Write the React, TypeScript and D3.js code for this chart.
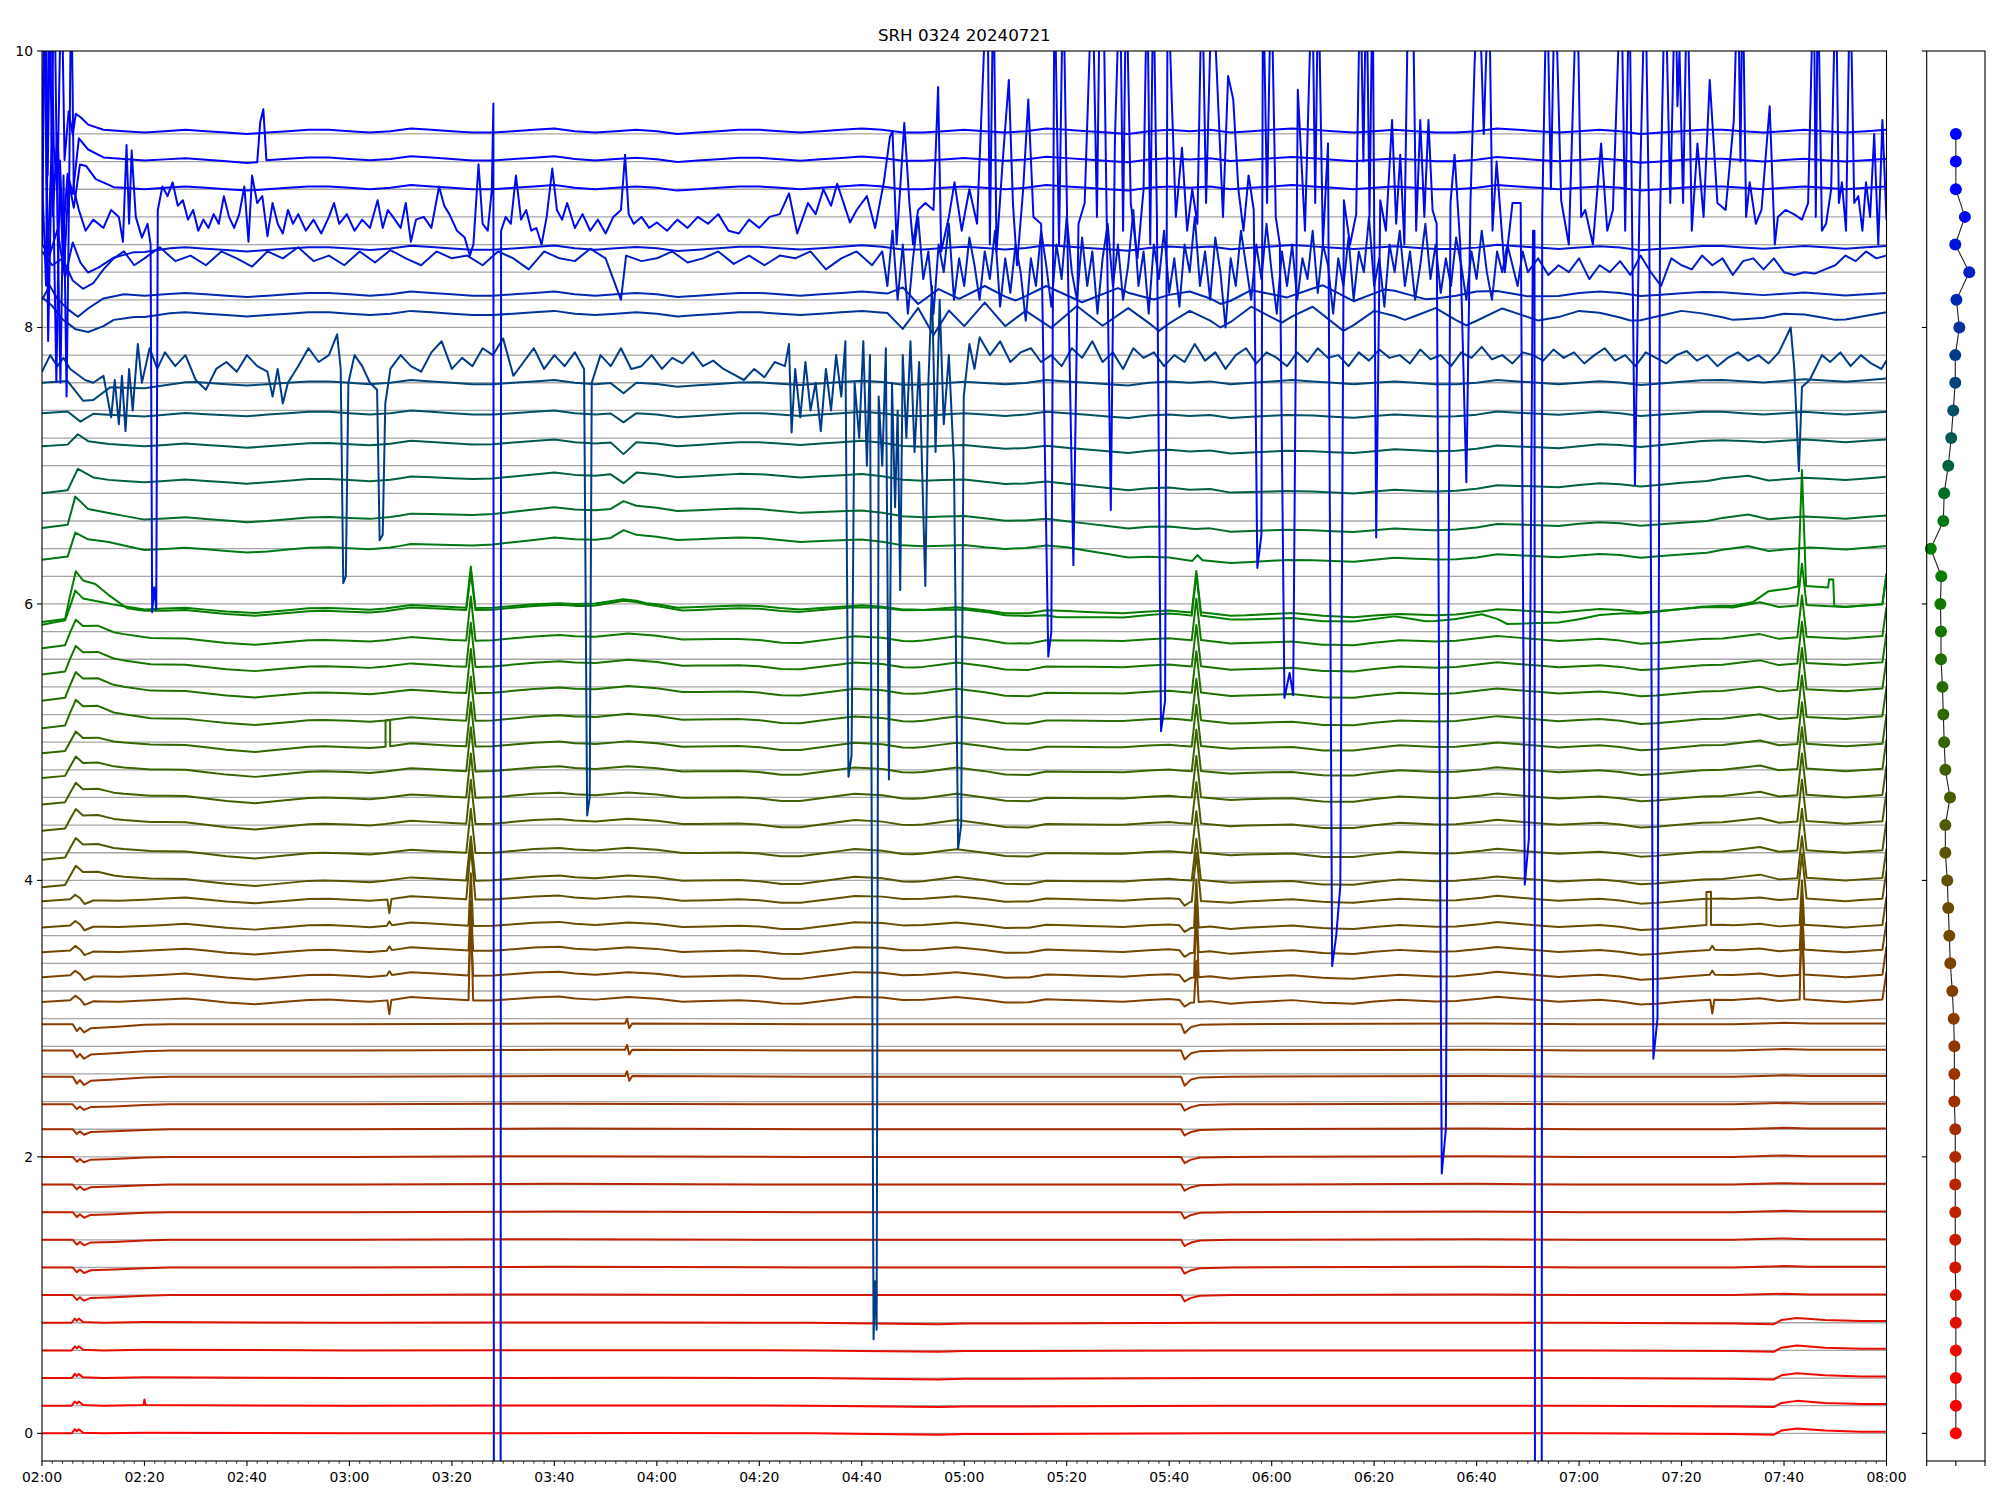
import React from "react";
import * as d3 from "d3";

type Pt = [number, number];

// ---------------- data ----------------
const title = "SRH 0324 20240721";
const timeTickLabels = ["02:00","02:20","02:40","03:00","03:20","03:40","04:00","04:20","04:40","05:00","05:20","05:40","06:00","06:20","06:40","07:00","07:20","07:40","08:00"];
const yTickLabels = ["0", "2", "4", "6", "8", "10"];
const panelTicks = [-0.5, 0, 0.5];

const channelOffsets = [0, 0.2, 0.4, 0.6, 0.8, 1.0, 1.2, 1.4, 1.6, 1.8, 2.0, 2.2, 2.4, 2.6, 2.8, 3.0, 3.2, 3.4, 3.6, 3.8, 4.0, 4.2, 4.4, 4.6, 4.8, 5.0, 5.2, 5.4, 5.6, 5.8, 6.0, 6.2, 6.4, 6.6, 6.8, 7.0, 7.2, 7.4, 7.6, 7.8, 8.0, 8.2, 8.4, 8.6, 8.8, 9.0, 9.2, 9.4];

// x position of each dot in the right panel
const dotShift = [0, 0, 0, 0, 0, 0, -0.01, -0.01, -0.01, -0.01, -0.01, -0.01, -0.026, -0.026, -0.026, -0.037, -0.061, -0.095, -0.112, -0.13, -0.147, -0.18, -0.18, -0.1, -0.18, -0.2, -0.215, -0.23, -0.255, -0.255, -0.265, -0.25, -0.43, -0.215, -0.2, -0.13, -0.08, -0.045, -0.01, -0.01, 0.06, 0.01, 0.23, -0.01, 0.155, 0, 0, 0];

// level of the quiet traces (channels 0..32) relative to their offset
const traceLevel = [0, 0, 0, 0, 0, 0, 0, 0, 0, 0, 0, 0, -0.02, -0.02, -0.03, -0.04, -0.07, -0.09, -0.11, -0.13, -0.14, -0.2, -0.2, -0.19, -0.2, -0.21, -0.23, -0.24, -0.24, -0.25, -0.26, -0.25, -0.43];
const profileOf = [0, 0, 0, 0, 0, 1, 1, 1, 1, 1, 1, 1, 1, 2, 2, 2, 3, 3, 3, 3, 3, 4, 4, 4, 4, 4, 4, 5, 5, 5, 5, 6, 7];

const profileLow: Pt[] = [[0,0],[5.8,0],[6.4,0.03],[6.8,0.015],[7.2,0.03],[8,0.005],[12,0],[20,0.005],[60,0],[120,0.002],[150,0],[175,-0.01],[180,-0.005],[190,-0.005],[230,0],[300,0],[330,-0.005],[338,-0.01],[339.5,0.02],[342.5,0.035],[348,0.02],[355,0.012],[360,0.012]];
const profileRedDip: Pt[] = [[0,0],[6,0],[6.8,-0.035],[7.4,-0.015],[8.2,-0.04],[9.5,-0.02],[14,-0.015],[20,-0.005],[25,0],[60,0],[100,0.005],[150,0],[190,0],[222.3,0],[223,-0.045],[223.7,-0.03],[224.3,-0.02],[226,-0.005],[232,0],[280,0.005],[300,0],[330,0],[340,0.01],[345,0.005],[360,0.005]];
const profileRedDip2: Pt[] = [[0,0],[6,0],[6.8,-0.05],[7.4,-0.025],[8.2,-0.06],[9.5,-0.03],[14,-0.02],[20,-0.005],[25,0],[60,0],[100,0.005],[113.8,0.005],[114.2,0.04],[114.6,-0.03],[115.2,0.005],[150,0],[190,0],[222.3,0],[223,-0.065],[223.7,-0.04],[224.3,-0.02],[226,-0.005],[232,0],[280,0.005],[300,0],[330,0],[340,0.01],[345,0.005],[360,0.005]];
const profileBrown: Pt[] = [[0,-0.01],[5.5,-0.01],[6.5,0.02],[7.5,-0.01],[8.3,-0.05],[10,-0.02],[15,-0.01],[21,0.01],[30,0.005],[41.6,-0.01],[60,0],[80,0.01],[101,0.015],[114.4,0.02],[125,0.01],[144.3,-0.02],[158.6,0.01],[178.5,0.02],[192.6,-0.015],[211,0.01],[222,0],[223,-0.045],[224.2,-0.015],[235,-0.01],[250,-0.02],[265,0],[281,0.01],[300,0],[315,-0.01],[330,0],[335.3,0.025],[339,0],[355,0],[359.2,0],[360,0.2]];
const profileOlive: Pt[] = [[0,-0.05],[4.5,-0.045],[5.5,0.02],[6.6,0.09],[8,0.04],[10.9,0.05],[14,0.03],[21.2,0.02],[28,0],[41.6,-0.025],[55,-0.01],[67,0],[80,0.005],[101,0.02],[106,0.025],[114.4,0.03],[125,0.015],[144.3,-0.025],[158.6,0.01],[170,0],[178.5,0.02],[192.6,-0.03],[211,0.01],[222,0],[235,-0.01],[250,-0.035],[265,0],[281,0.01],[300,0],[315,-0.01],[328,0],[335.3,0.05],[339,0.01],[355,0.01],[359.2,0.01],[360,0.22]];
const profileGreen: Pt[] = [[0,-0.06],[4.5,-0.05],[5.5,0.04],[6.6,0.13],[8,0.08],[10.9,0.09],[14,0.05],[21.2,0.02],[28,0],[41.6,-0.02],[55,-0.01],[67,0],[80,0],[101,0.02],[106,0.03],[114.4,0.04],[125,0.02],[144.3,-0.02],[158.6,0.01],[170,0],[178.5,0.02],[192.6,-0.03],[211,0.01],[222,0],[235,-0.02],[250,-0.04],[265,-0.01],[281,0.01],[300,0],[315,-0.01],[328,0],[335.3,0.05],[339,0.01],[355,0.02],[359.2,0.02],[360,0.23]];
const profile31: Pt[] = [[0,-0.08],[4.5,-0.07],[5.5,0.1],[6.6,0.27],[8,0.2],[10.4,0.18],[12.9,0.11],[16.6,0.02],[24,0],[41.6,-0.02],[55,-0.01],[67,0],[101,0.03],[106,0.04],[113.5,0.07],[118,0.04],[125,0.02],[144.3,0],[158.6,0.01],[178.5,0.02],[192.6,-0.02],[211,0],[222,-0.01],[235,-0.03],[250,-0.04],[265,-0.03],[281,-0.01],[300,0],[330,0.02],[335.3,0.07],[339,0.03],[355,0.04],[359.2,0.04],[360,0.26]];
const profile32: Pt[] = [[0,-0.12],[4.5,-0.1],[5.5,0],[6.5,0.11],[8,0.05],[10,0.04],[14,0.02],[20,0],[41.6,-0.02],[67,0],[101,0.02],[113.5,0.06],[118,0.03],[144,0],[170,0],[185,-0.03],[198,-0.08],[211,-0.05],[222,-0.05],[235,-0.08],[250,-0.1],[264,-0.07],[270,-0.09],[281,-0.05],[286,-0.13],[300,-0.08],[312,-0.02],[330,0.01],[334,0.05],[337,0.13],[341,0.14],[342.7,0.15],[343.5,0.99],[344.3,0.15],[348.6,0.15],[348.8,0.21],[349.6,0.21],[349.8,0.02],[355,0.02],[359.2,0.02],[360,0.24]];
const quietProfiles = [profileLow, profileRedDip, profileRedDip2, profileBrown, profileOlive, profileGreen, profile31, profile32];

// minutes after 02:00 of the three bursts, and their amplitudes per channel
const burstTimes = [83.7, 225.3, 343.5];
const spike0324 = [0,0,0,0,0,0,0,0,0,0,0,0,0,0,0,0,0.7,0.36,0.36,0.38,0.38,0.32,0.32,0.32,0.32,0.32,0.32,0.32,0.32,0.32,0.32,0.27,0.3,0,0,0,0,0,0,0,0,0,0,0,0,0,0,0];
const spike0545 = [0,0,0,0,0,0,0,0,0,0,0,0,0,0,0,0,0.3,0.5,0.35,0.35,0.35,0.3,0.3,0.3,0.3,0.3,0.3,0.3,0.3,0.3,0.3,0.3,0.3,0,0,0,0,0,0,0,0,0,0,0,0,0,0,0];
const spike0744 = [0,0,0,0,0,0,0,0,0,0,0,0,0,0,0,0,0.75,0.32,0.32,0.32,0.32,0.3,0.3,0.3,0.3,0.3,0.3,0.3,0.3,0.3,0.3,0.3,0,0,0,0,0,0,0,0,0,0,0,0,0,0,0,0];
// [channel, minute, amplitude, half width, rectangular]
const extraPulses: [number, number, number, number, number][] = [
  [26, 67.5, 0.19, 0.45, 1], [19, 325.3, 0.24, 0.45, 1], [16, 67.8, -0.1, 0.4, 0], [20, 67.8, -0.1, 0.4, 0],
  [17, 67.8, 0.03, 0.5, 0], [18, 67.8, 0.03, 0.5, 0], [19, 67.8, 0.03, 0.5, 0], [16, 326, -0.1, 0.4, 0],
  [17, 326, 0.03, 0.5, 0], [18, 326, 0.03, 0.5, 0], [1, 20, 0.04, 0.2, 0],
];

// teal channels 33..38, deviation from offset
const tealProfiles: Pt[][] = [
  [[0,-0.28],[5,-0.27],[6.5,-0.1],[9,-0.15],[13,-0.16],[20,-0.2],[44,-0.21],[70,-0.19],[100,-0.14],[111,-0.12],[113.5,-0.07],[116,-0.11],[157,-0.15],[184,-0.19],[200,-0.2],[224.5,-0.29],[225.5,-0.25],[226.5,-0.29],[243,-0.3],[270,-0.27],[300,-0.25],[325,-0.24],[333,-0.18],[337,-0.21],[345,-0.2],[360,-0.19]],
  [[0,-0.25],[5,-0.24],[6.5,-0.04],[9,-0.13],[13,-0.15],[20,-0.18],[44,-0.19],[70,-0.17],[100,-0.12],[111,-0.11],[113.5,-0.06],[116,-0.1],[157,-0.14],[184,-0.18],[225,-0.26],[243,-0.28],[270,-0.26],[300,-0.22],[325,-0.21],[333,-0.15],[337,-0.18],[360,-0.17]],
  [[0,-0.2],[5,-0.19],[7,-0.04],[10,-0.1],[13,-0.11],[44,-0.11],[70,-0.1],[100,-0.07],[111,-0.06],[113.5,-0.13],[116,-0.06],[160,-0.08],[200,-0.14],[243,-0.2],[270,-0.18],[300,-0.14],[325,-0.12],[333,-0.07],[337,-0.1],[360,-0.09]],
  [[0,-0.06],[5,-0.06],[7,0.01],[9,-0.04],[13,-0.05],[44,-0.05],[100,-0.03],[111,-0.03],[113.5,-0.12],[116,-0.04],[160,-0.04],[200,-0.08],[243,-0.11],[300,-0.06],[333,-0.02],[360,-0.02]],
  [[0,-0.02],[5,-0.02],[7.5,-0.1],[10,-0.04],[44,-0.02],[111,-0.02],[113.5,-0.09],[116,-0.03],[200,-0.03],[243,-0.05],[300,-0.02],[360,-0.02]],
  [[0,0],[5,0],[8,-0.15],[10,-0.14],[13.3,-0.04],[20,-0.03],[30,0],[111,0],[113.5,-0.08],[116,-0.01],[200,0],[300,0],[360,0.02]],
];

// small common wiggle (hundredths), 4-minute grid
const wiggle = [0,1,2,1,0,-1,0,1,0,-1,-2,-1,0,1,1,0,-1,0,2,1,0,-1,-1,0,1,2,0,-1,0,1,0,-2,-1,0,1,1,0,-1,0,1,2,1,-1,-1,0,1,0,-1,0,2,1,0,-1,-2,0,1,0,1,-1,0,1,2,1,0,-1,0,1,0,-1,-1,0,2,1,0,-1,0,1,0,-2,-1,0,1,1,0,-1,0,1,0,-1,0,1];

// noisy upper channels, absolute values
const ch39: Pt[] = [[0,7.68],[1.6,7.8],[3,7.72],[4.2,7.78],[5.5,7.7],[8.4,7.62],[10,7.6],[12,7.65],[13.5,7.35],[14.2,7.62],[15,7.3],[15.6,7.65],[16.3,7.25],[17,7.7],[17.7,7.4],[18.7,7.88],[19.5,7.6],[21,7.85],[22.5,7.7],[24,7.82],[26,7.72],[28,7.8],[30,7.62],[32,7.55],[34,7.7],[36,7.75],[38,7.68],[40,7.8],[42,7.72],[44,7.68],[45,7.5],[46,7.7],[47,7.45],[48,7.6],[50,7.72],[52,7.85],[54,7.75],[56,7.8],[57.6,7.95],[58.3,7.7],[58.8,6.15],[59.3,6.2],[59.8,7.6],[61,7.8],[62.5,7.72],[64,7.6],[65.4,7.55],[65.9,6.46],[66.5,6.5],[67,7.45],[68,7.7],[70,7.8],[72,7.72],[74,7.68],[76,7.82],[78,7.9],[80,7.7],[82,7.78],[84,7.72],[86,7.85],[88,7.8],[90,7.92],[92,7.65],[94,7.75],[96,7.85],[98,7.7],[100,7.8],[102,7.72],[104,7.82],[105.8,7.7],[106.4,4.47],[106.9,4.6],[107.3,7.6],[109,7.8],[111,7.72],[113,7.85],[115,7.7],[117,7.72],[119,7.8],[121,7.7],[123,7.78],[125,7.74],[127,7.82],[129,7.72],[131,7.76],[133,7.7],[135,7.66],[137,7.62],[139,7.7],[141,7.64],[143,7.75],[145,7.72],[145.8,7.88],[146.3,7.24],[147,7.7],[148,7.35],[149,7.75],[150,7.4],[151,7.6],[152,7.25],[153,7.7],[154,7.4],[155,7.8],[156,7.5],[156.8,7.9],[157.4,4.75],[158,4.9],[158.6,7.6],[159.5,7.2],[160.3,7.9],[161,7.0],[161.6,7.8],[162.3,0.68],[162.6,1.1],[162.9,0.75],[163.3,7.5],[164,7.0],[164.7,7.85],[165.3,4.73],[165.9,7.6],[166.5,6.7],[167,7.4],[167.5,6.1],[168,7.8],[168.7,7.2],[169.5,7.9],[170.3,7.1],[171.2,7.75],[172.4,6.13],[173,7.6],[173.7,8.3],[174.4,7.1],[175.2,8.2],[176,7.3],[177,7.8],[178,7.0],[178.8,4.23],[179.4,4.4],[179.9,7.5],[181,7.88],[182,7.7],[183,7.93],[185,7.8],[187,7.9],[189,7.75],[191,7.82],[193,7.85],[195,7.75],[197,7.8],[199,7.72],[201,7.85],[203,7.78],[205,7.9],[207,7.75],[209,7.82],[211,7.7],[213,7.85],[215,7.78],[217,7.82],[219,7.72],[221,7.8],[223,7.75],[225,7.88],[227,7.76],[229,7.82],[231,7.7],[233,7.8],[235,7.85],[237,7.74],[239,7.82],[241,7.78],[243,7.72],[245,7.82],[247,7.75],[249,7.85],[251,7.78],[253,7.8],[255,7.72],[257,7.82],[259,7.76],[261,7.84],[263,7.78],[265,7.8],[267,7.74],[269,7.84],[271,7.77],[273,7.8],[275,7.72],[277,7.82],[279,7.78],[281,7.86],[283,7.77],[285,7.8],[287,7.74],[289,7.82],[291,7.8],[293,7.76],[295,7.84],[297,7.78],[299,7.82],[301,7.74],[303,7.8],[305,7.85],[307,7.76],[309,7.8],[311,7.72],[313,7.82],[315,7.78],[317,7.74],[319,7.8],[321,7.83],[323,7.76],[325,7.8],[327,7.72],[329,7.78],[331,7.82],[333,7.76],[335,7.8],[337,7.74],[339,7.82],[341.3,8.0],[342,7.7],[342.9,6.96],[343.5,7.57],[345,7.62],[347.4,7.8],[349,7.75],[351,7.82],[353,7.72],[355,7.8],[357,7.74],[359,7.7],[360,7.76]];
const ch40: Pt[] = [[0,8.22],[2,8.15],[4,8.05],[6.6,7.97],[9,7.95],[12,8.0],[14,8.05],[18,8.08],[25,8.1],[165,8.1],[168,8.0],[171,8.15],[174,7.95],[177,8.12],[180,8.0],[184,8.18],[188,8.02],[192,8.12],[197,7.98],[202,8.15],[207,8.02],[212,8.16],[218,7.97],[224,8.12],[230,8.0],[236,8.15],[242,8.02],[248,8.14],[254,7.98],[260,8.12],[266,8.05],[272,8.15],[278,8.02],[285,8.12],[292,8.05],[300,8.12],[310,8.06],[320,8.12],[330,8.05],[340,8.1],[350,8.06],[360,8.1]];
const ch41: Pt[] = [[0,8.2],[1.5,8.3],[3,8.2],[5,8.12],[7,8.06],[9,8.12],[12,8.2],[16,8.24],[165,8.24],[168,8.3],[171,8.18],[175,8.28],[179,8.2],[184,8.3],[190,8.2],[196,8.28],[203,8.18],[210,8.3],[217,8.2],[224,8.26],[230,8.17],[236,8.27],[243,8.2],[250,8.3],[256,8.2],[262,8.27],[270,8.21],[280,8.26],[290,8.22],[300,8.25],[360,8.24]];
const ch42: Pt[] = [[0,8.55],[2,8.45],[4,8.5],[6,8.34],[8,8.28],[10,8.32],[12,8.42],[14,8.5],[16,8.55],[18,8.45],[20,8.5],[23,8.58],[26,8.48],[29,8.52],[32,8.45],[35,8.55],[38,8.5],[41,8.44],[44,8.55],[47,8.5],[50,8.58],[53,8.48],[56,8.52],[59,8.45],[62,8.55],[65,8.47],[68,8.56],[71,8.5],[74,8.45],[77,8.55],[80,8.5],[83,8.52],[86,8.45],[89,8.55],[92,8.5],[95,8.42],[98,8.55],[101,8.5],[104,8.48],[107,8.57],[110,8.5],[113,8.2],[114,8.52],[117,8.48],[120,8.5],[123,8.55],[126,8.47],[129,8.5],[132,8.55],[135,8.46],[138,8.52],[141,8.45],[144,8.52],[147,8.5],[150,8.55],[153,8.42],[156,8.5],[159,8.55],[162,8.45],[164,8.55],[165,8.3],[166,8.7],[167,8.2],[168,8.6],[169,8.1],[170,8.5],[171,8.8],[172,8.35],[173,8.55],[174,8.1],[175,8.6],[176,8.4],[177,8.75],[178,8.2],[179,8.5],[180,8.3],[181,8.65],[182,8.45],[183,8.2],[184,8.55],[185,8.35],[186,8.7],[187,8.15],[188,8.5],[189,8.25],[190,8.6],[191,8.4],[192,8.05],[193,8.5],[194,8.3],[195,8.7],[196,8.45],[197,8.15],[198,8.6],[199,8.35],[200,8.8],[201,8.4],[202,8.2],[203,8.65],[204,8.3],[205,8.55],[206,8.1],[207,8.5],[208,8.75],[209,8.3],[210,8.6],[211,8.2],[212,8.45],[213,8.85],[214,8.3],[215,8.55],[216,8.1],[217,8.6],[218,8.35],[219,8.7],[220,8.25],[221,8.5],[222,8.15],[223,8.6],[224,8.4],[225,8.8],[226,8.3],[227,8.55],[228,8.2],[229,8.65],[230,8.4],[231,8.0],[232,8.5],[233,8.3],[234,8.7],[235,8.45],[236,8.2],[237,8.6],[238,8.35],[239,8.75],[240,8.4],[241,8.1],[242,8.55],[243,8.3],[244,8.6],[245,8.2],[246,8.5],[247,8.35],[248,8.7],[249,8.25],[250,8.6],[251,8.45],[252,8.1],[253,8.5],[254,8.3],[255,8.65],[256,8.2],[257,8.55],[258,8.4],[259,8.8],[260,8.3],[261,8.5],[262,8.15],[263,8.6],[264,8.4],[265,8.7],[266,8.3],[267,8.55],[268,8.2],[269,8.45],[270,8.75],[271,8.35],[272,8.6],[273,8.25],[274,8.5],[275,8.3],[276,8.65],[277,8.45],[278,8.2],[279,8.55],[280,8.35],[281,8.7],[282,8.4],[283,8.2],[284,8.55],[285,8.4],[286,8.6],[287,8.45],[288,8.3],[289,8.55],[290,8.4],[292,8.5],[294,8.38],[296,8.45],[298,8.4],[300,8.5],[302,8.35],[304,8.45],[306,8.4],[308,8.48],[310,8.38],[312,8.52],[314,8.4],[316,8.3],[318,8.5],[320,8.45],[322,8.42],[324,8.52],[326,8.45],[328,8.5],[330,8.38],[332,8.48],[334,8.5],[336,8.42],[338,8.5],[340,8.4],[342,8.38],[344,8.4],[346,8.39],[348,8.42],[350,8.45],[352,8.52],[354,8.48],[356,8.55],[358,8.5],[360,8.52]];
const ch43: Pt[] = [[0,8.6],[1.5,8.52],[3,8.7],[4.5,8.35],[6,8.6],[7.5,8.45],[9,8.38],[11,8.42],[14,8.5],[18,8.55],[25,8.57],[360,8.58]];
const ch44: Pt[] = [[0,8.7],[0.5,10.6],[1,8.4],[1.8,9.2],[2.4,10.6],[3,8.8],[3.6,7.6],[4.2,9.1],[4.8,7.5],[5.3,9.0],[5.7,10.6],[6.2,9.0],[7.2,8.85],[8.5,8.7],[10,8.78],[12,8.72],[13.5,8.85],[15,8.8],[15.8,8.62],[16.5,9.32],[17,8.75],[17.5,9.28],[18.3,8.8],[19.5,8.65],[20.6,8.75],[21.2,8.6],[21.5,5.94],[21.9,6.12],[22.3,5.96],[22.6,8.85],[23.5,9.02],[24.5,8.95],[25.5,9.05],[26.5,8.88],[27.5,8.92],[28.5,8.78],[29.5,8.85],[30.5,8.7],[31.5,8.78],[32.5,8.72],[33.5,8.82],[34.5,8.75],[35.5,8.95],[36.5,8.8],[37.5,8.72],[38.5,8.82],[39.5,9.02],[40.3,8.62],[41,9.1],[42,8.9],[43,8.95],[44,8.66],[45,8.9],[46,8.75],[47,8.68],[48,8.85],[49,8.75],[50,8.82],[51.5,8.7],[53,8.78],[54.5,8.68],[56,8.8],[57,8.9],[58,8.75],[59.5,8.82],[61,8.7],[62.5,8.78],[64,8.72],[65.5,8.92],[66.5,8.72],[67.5,8.85],[68.5,8.8],[70,8.72],[71,8.9],[72,8.62],[73,8.78],[74.5,8.8],[76,8.72],[77.5,9.02],[78.5,8.88],[79.5,8.82],[81,8.7],[82.5,8.65],[83.5,8.52],[84.2,8.6],[85.2,9.18],[86,8.75],[87,8.7],[87.8,9.0],[88.1,9.62],[88.2,-1.5],[89.5,-1.5],[89.6,8.7],[90.5,8.8],[91.5,8.75],[92.5,9.1],[93.5,8.78],[94.5,8.85],[95.5,8.7],[96.5,8.72],[97.5,8.6],[98.5,8.8],[99.6,9.15],[100.5,8.85],[101.5,8.78],[102.5,8.9],[104,8.72],[105.5,8.82],[107,8.7],[108.5,8.78],[110,8.68],[111.5,8.8],[113,8.85],[113.8,9.25],[114.5,8.82],[115.5,8.75],[117,8.8],[118.5,8.72],[120,8.76],[122,8.7],[124,8.78],[126,8.72],[128,8.8],[130,8.75],[132,8.82],[134,8.7],[136,8.68],[138,8.78],[140,8.72],[142,8.8],[144,8.82],[145.8,8.97],[147.4,8.68],[149.5,8.9],[151,8.82],[152.5,9.0],[154,8.88],[155.2,9.04],[157.7,8.76],[159,8.85],[161,8.95],[162.6,8.72],[164.3,9.05],[165.5,9.38],[166,9.42],[166.8,8.6],[168.3,9.48],[169.3,8.9],[170,8.6],[171,8.85],[172.4,8.9],[174,8.85],[174.9,9.74],[175.5,8.55],[177,8.8],[178.1,9.05],[179.5,8.7],[181,9.0],[182.5,8.75],[184.5,10.6],[185,8.6],[185.7,10.6],[186.3,8.55],[187.5,9.2],[188.7,9.79],[189.5,8.9],[190.3,8.45],[191.5,9.0],[192.5,9.65],[193.5,8.8],[195,8.75],[196.4,5.62],[197,5.8],[197.6,10.6],[198.5,8.6],[199.3,10.6],[200.2,8.5],[201.3,6.28],[202.3,8.75],[203.5,8.9],[205,10.6],[205.9,8.8],[206.5,10.6],[207.1,10.6],[207.8,8.8],[208.6,6.68],[209.4,9.35],[210.4,10.6],[211,8.7],[211.6,10.6],[212.5,8.9],[213.8,8.5],[215,9.0],[215.7,10.6],[216.3,8.6],[216.9,10.6],[217.6,8.8],[218.4,5.08],[219.2,5.3],[219.7,10.6],[220.5,9.65],[221.3,8.8],[222.5,9.3],[223.5,8.7],[224.5,9.0],[225.5,8.75],[226.4,10.6],[227.2,8.9],[228.4,10.6],[229.7,9.5],[230.5,8.8],[231.5,9.82],[232.5,9.65],[233.5,9.0],[234.5,8.7],[235.5,9.1],[236.5,8.85],[237.2,6.26],[238,6.5],[238.3,10.6],[239.1,8.9],[239.9,10.6],[240.8,8.8],[241.6,8.6],[242.5,5.32],[243.5,5.5],[244.2,5.34],[245.1,9.72],[246.5,8.7],[247.9,10.6],[248.5,8.9],[249.1,10.6],[250,8.6],[251,9.33],[251.8,3.38],[252.6,3.6],[253.4,3.96],[254.1,8.92],[255.3,8.6],[256.5,8.82],[257.3,10.6],[257.9,9.2],[258.5,10.6],[259.1,8.8],[259.7,10.6],[260.4,6.48],[261.2,8.92],[262.3,8.7],[263.5,9.5],[264.3,8.75],[265.1,9.25],[265.9,8.6],[266.7,10.6],[267.5,10.6],[268.2,8.7],[269,9.5],[269.8,8.8],[270.6,9.5],[271.4,8.85],[272.2,8.75],[273.2,1.88],[274,2.2],[274.9,8.9],[275.7,9.25],[276.8,8.6],[278,6.88],[278.8,8.9],[279.6,9.9],[280.4,10.6],[281.4,9.4],[282.4,10.6],[283.1,8.7],[283.9,9.2],[285.5,8.4],[287,8.9],[288.6,8.9],[289.4,3.97],[290.2,4.3],[291,8.7],[291.3,8.7],[291.4,-1.5],[292.7,-1.5],[292.8,8.8],[293.7,10.6],[294.5,9.0],[295.3,10.6],[296.5,8.92],[298,8.6],[299.6,10.6],[300.4,8.8],[301.2,8.85],[302.7,8.6],[304.3,9.33],[305.5,8.7],[306.6,8.85],[308.2,10.6],[309,8.7],[309.8,10.6],[310.9,6.86],[311.8,8.9],[312.9,10.6],[313.7,8.7],[314.5,2.71],[315.3,3.0],[315.8,8.8],[316.8,10.6],[317.8,8.9],[318.8,10.6],[319.2,9.6],[319.6,10.0],[320.3,8.9],[321.1,10.6],[322,8.7],[323.1,9.33],[324.3,8.8],[325.5,9.79],[327,8.9],[328.6,8.85],[330.2,9.5],[331,10.6],[331.5,9.2],[331.9,10.6],[332.6,8.8],[333.3,9.05],[334.5,8.75],[335.6,8.85],[337.2,9.6],[338.2,8.6],[338.8,8.8],[340.3,8.85],[341.9,8.82],[343.5,8.78],[344.7,8.9],[345.8,10.6],[346.2,8.8],[346.6,10.6],[347.4,8.7],[348.2,8.75],[349.2,9.0],[350.1,10.6],[350.7,8.9],[351.3,9.05],[352.1,8.7],[352.9,10.6],[353.7,8.9],[354.5,8.95],[355.3,8.7],[356,9.05],[356.8,8.8],[357.6,9.4],[358.4,8.6],[359.2,9.5],[360,8.78]];
const ch45: Pt[] = [[0,8.6],[0.6,10.6],[1.2,7.9],[2,9.4],[2.8,7.6],[3.5,9.2],[4.3,8.4],[5.2,9.05],[6.2,8.85],[7.4,9.16],[8.6,9.15],[10.5,9.06],[14,9.01],[360,9.01]];
const ch46: Pt[] = [[0,9.1],[0.8,8.3],[1.4,10.6],[2.1,8.8],[3,9.4],[4,8.6],[5,9.1],[6,8.95],[7.2,9.35],[9,9.27],[12,9.22],[42,9.21],[42.6,9.5],[43.2,9.59],[43.8,9.22],[360,9.21]];
const ch47: Pt[] = [[0,8.9],[0.5,10.6],[1.1,9.1],[1.7,10.6],[2.3,9.3],[3,9.0],[3.8,10.6],[4.4,9.2],[5.2,9.55],[6,9.38],[6.6,9.53],[7.6,9.5],[9,9.45],[12,9.42],[360,9.42]];
const noisyChannels = [ch39, ch40, ch41, ch42, ch43, ch44, ch45, ch46, ch47];
const noisyWiggled = [0, 1, 1, 0, 1, 0, 1, 1, 1];

// colour stops: channel index -> colour
const colorStopIndex = [0, 32, 45];
const colorStops = ["#ff0000", "#008000", "#0000ff"];

// ---------------- helpers ----------------
function interpAt(pts: Pt[], t: number): number {
  if (t <= pts[0][0]) return pts[0][1];
  for (let i = 1; i < pts.length; i++) {
    if (t <= pts[i][0]) {
      const [t0, v0] = pts[i - 1];
      const [t1, v1] = pts[i];
      return t1 === t0 ? v1 : v0 + ((v1 - v0) * (t - t0)) / (t1 - t0);
    }
  }
  return pts[pts.length - 1][1];
}

function sortPts(pts: Pt[]): Pt[] {
  return pts.map((p, i) => ({ p, i })).sort((a, b) => a.p[0] - b.p[0] || a.i - b.i).map((o) => o.p);
}

function applyPulse(pts: Pt[], t: number, a: number, w: number, rect: number): Pt[] {
  const b0 = interpAt(pts, t - w);
  const b1 = interpAt(pts, t + w);
  const bm = interpAt(pts, t);
  const kept = pts.filter((p) => p[0] < t - w || p[0] > t + w);
  const add: Pt[] = rect
    ? [[t - w, b0], [t - w, b0 + a], [t + w, b1 + a], [t + w, b1]]
    : [[t - w, b0], [t, bm + a], [t + w, b1]];
  return sortPts(kept.concat(add));
}

function withWiggle(pts: Pt[]): Pt[] {
  const n = wiggle.length;
  const step = 360 / (n - 1);
  const wigAt = (t: number) => {
    const i = Math.min(n - 2, Math.max(0, Math.floor(t / step)));
    const f = (t - i * step) / step;
    return (wiggle[i] + (wiggle[i + 1] - wiggle[i]) * f) * 0.01;
  };
  const out: Pt[] = pts.map(([t, v]) => [t, v + wigAt(t)] as Pt);
  for (let i = 0; i < n; i++) {
    const t = i * step;
    if (!pts.some((p) => Math.abs(p[0] - t) < 2)) out.push([t, interpAt(pts, t) + wigAt(t)]);
  }
  return sortPts(out);
}

function buildSeries(ch: number): Pt[] {
  if (ch <= 32) {
    const base = channelOffsets[ch] + traceLevel[ch];
    const prof = profileOf[ch];
    let pts: Pt[] = quietProfiles[prof].map(([t, d]) => [t, base + d] as Pt);
    const hw = ch >= 16 && ch <= 19 ? 0.45 : 0.9;
    if (spike0324[ch]) pts = applyPulse(pts, burstTimes[0], spike0324[ch], hw, 0);
    if (spike0545[ch]) pts = applyPulse(pts, burstTimes[1], spike0545[ch], hw, 0);
    if (spike0744[ch]) pts = applyPulse(pts, burstTimes[2], spike0744[ch], hw, 0);
    extraPulses.forEach(([c, t, a, w, r]) => {
      if (c === ch) pts = applyPulse(pts, t, a, w, r);
    });
    return prof >= 3 ? withWiggle(pts) : pts;
  }
  if (ch <= 38) {
    const pts: Pt[] = tealProfiles[ch - 33].map(([t, d]) => [t, channelOffsets[ch] + d] as Pt);
    return withWiggle(pts);
  }
  const k = ch - 39;
  return noisyWiggled[k] ? withWiggle(noisyChannels[k]) : noisyChannels[k];
}

// ---------------- component ----------------
export default function App() {
  const W = 2000;
  const H = 1500;
  const ax = { l: 42, r: 1886.5, t: 51, b: 1461 };
  const pn = { l: 1926.7, r: 1985 };
  const x = d3.scaleLinear().domain([0, 360]).range([ax.l, ax.r]);
  const y = d3.scaleLinear().domain([-0.2, 10]).range([ax.b, ax.t]);
  const px = d3.scaleLinear().domain([-0.5, 0.5]).range([pn.l, pn.r]);
  const color = d3.scaleLinear<string>().domain(colorStopIndex).range(colorStops).interpolate(d3.interpolateRgb).clamp(true);
  const line = d3.line<Pt>().x((d) => x(d[0])).y((d) => y(d[1]));
  const series = channelOffsets.map((_, i) => buildSeries(i));
  const dotLine = d3.line<number>().x((d, i) => px(dotShift[i])).y((d) => y(d));
  const font = "DejaVu Sans, sans-serif";
  const minorTicks = d3.range(0, 361, 2).filter((m) => m % 20 !== 0);

  return (
    <svg width={W} height={H} style={{ position: "absolute", left: 0, top: 0, background: "#fff" }} fontFamily={font}>
      <defs>
        <clipPath id="clipMain">
          <rect x={ax.l} y={ax.t} width={ax.r - ax.l} height={ax.b - ax.t} />
        </clipPath>
      </defs>
      <rect x={0} y={0} width={W} height={H} fill="#fff" />
      <text x={(ax.l + ax.r) / 2} y={41} textAnchor="middle" fontSize={16.7}>{title}</text>

      <g clipPath="url(#clipMain)">
        {channelOffsets.map((o, i) => (
          <line key={"g" + i} x1={ax.l} x2={ax.r} y1={y(o)} y2={y(o)} stroke="#a6a6a6" strokeWidth={1.3} />
        ))}
        {series.map((s, i) => (
          <path key={"s" + i} d={line(s) || ""} fill="none" stroke={color(i)} strokeWidth={2} strokeLinejoin="round" />
        ))}
      </g>

      {/* main axes frame */}
      <rect x={ax.l} y={ax.t} width={ax.r - ax.l} height={ax.b - ax.t} fill="none" stroke="#000" strokeWidth={1.1} />
      {timeTickLabels.map((lab, i) => (
        <g key={"xt" + i}>
          <line x1={x(i * 20)} x2={x(i * 20)} y1={ax.b} y2={ax.b + 4.9} stroke="#000" strokeWidth={1.1} />
          <text x={x(i * 20)} y={1481.5} textAnchor="middle" fontSize={13.9}>{lab}</text>
        </g>
      ))}
      {minorTicks.map((m) => (
        <line key={"mt" + m} x1={x(m)} x2={x(m)} y1={ax.b} y2={ax.b + 2.8} stroke="#000" strokeWidth={0.8} />
      ))}
      {yTickLabels.map((lab) => {
        const v = +lab;
        return (
          <g key={"yt" + lab}>
            <line x1={ax.l - 4.9} x2={ax.l} y1={y(v)} y2={y(v)} stroke="#000" strokeWidth={1.1} />
            <text x={ax.l - 9} y={y(v) + 5} textAnchor="end" fontSize={13.9}>{lab}</text>
            <line x1={pn.l - 4.9} x2={pn.l} y1={y(v)} y2={y(v)} stroke="#000" strokeWidth={1.1} />
          </g>
        );
      })}

      {/* right panel */}
      <path d={dotLine(channelOffsets) || ""} fill="none" stroke="#222" strokeWidth={1.1} />
      {channelOffsets.map((o, i) => (
        <circle key={"d" + i} cx={px(dotShift[i])} cy={y(o)} r={6} fill={color(i)} />
      ))}
      <rect x={pn.l} y={ax.t} width={pn.r - pn.l} height={ax.b - ax.t} fill="none" stroke="#000" strokeWidth={1.1} />
      {panelTicks.map((v) => (
        <line key={"pt" + v} x1={px(v)} x2={px(v)} y1={ax.b} y2={ax.b + 4.9} stroke="#000" strokeWidth={1.1} />
      ))}
    </svg>
  );
}
